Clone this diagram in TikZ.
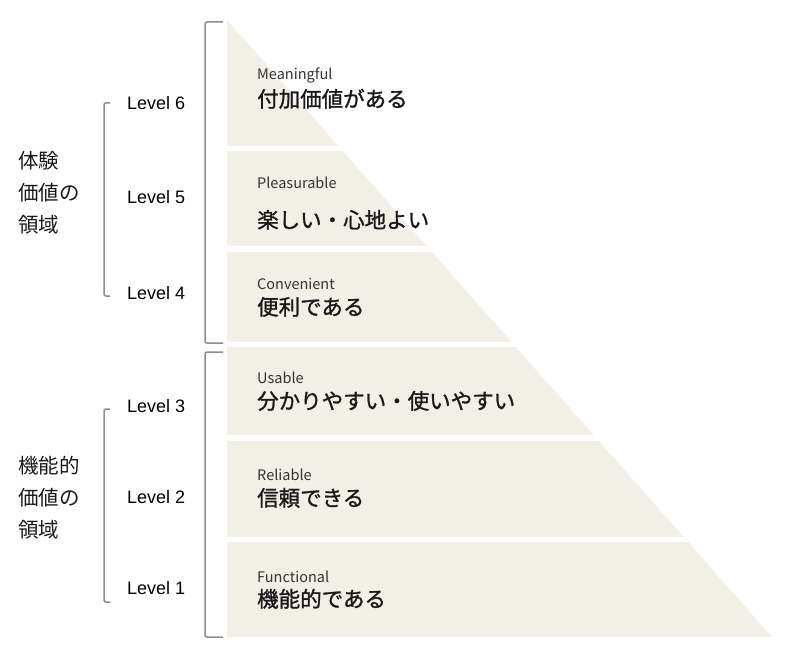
\documentclass[tikz,border=0pt]{standalone}
\usepackage{fontspec}
\setmainfont{Noto Sans CJK JP}
\newfontfamily\jpbold{Noto Sans CJK JP}[FakeBold=1.2]
\newfontfamily\lvfont{Liberation Sans}
\definecolor{bandfill}{HTML}{F1EFE6}
\definecolor{brgray}{HTML}{8C8C8C}
\definecolor{entext}{HTML}{333333}

\begin{document}
\begin{tikzpicture}[
        x=1pt, y=-1pt]

        \tikzstyle{band}=[
            fill = bandfill,
            draw = none
        ]
        \tikzstyle{br}=[
            draw = brgray,
            line width = 1.5pt,
            rounded corners = 2pt
        ]
        \tikzset{en/.style={anchor=base west, inner sep=0pt, text=entext, font=\fontsize{14.5}{14.5}\selectfont}}
        \tikzset{jp/.style={anchor=base west, inner sep=0pt, text=black!90, font=\jpbold\fontsize{21.5}{21.5}\selectfont}}
        \tikzset{lv/.style={anchor=west, inner sep=0pt, font=\lvfont\fontsize{18}{18}\selectfont}}
        \tikzset{grp/.style={anchor=west, inner sep=0pt, align=left, text=black!90, font=\fontsize{20.5}{32}\selectfont}}
        \useasboundingbox (0,0) rectangle (800,660);

        % pyramid, cut into bands
        \begin{scope}
            \clip (227,20) -- (772,637) -- (227,637) -- cycle;
            \foreach \t/\b in {20/146, 151/246, 252/342, 347/435, 441/537, 542/637}
                \fill[band] (227,\t) rectangle (780,\b);
        \end{scope}

        % brackets
        \draw[br] (223,22) -- (205,22) -- (205,343) -- (223,343);
        \draw[br] (223,352) -- (205,352) -- (205,637) -- (223,637);
        \draw[br] (110,103) -- (104,103) -- (104,296) -- (110,296);
        \draw[br] (110,409) -- (104,409) -- (104,602) -- (110,602);

        % band texts
        \node[en] (en6) at (257,80) {Meaningful};
        \node[jp] (jp6) at (257,107) {付加価値がある};
        \node[en] (en5) at (257,189) {Pleasurable};
        \node[jp] (jp5) at (257,228) {楽しい・心地よい};
        \node[en] (en4) at (257,290) {Convenient};
        \node[jp] (jp4) at (257,315) {便利である};
        \node[en] (en3) at (257,383) {Usable};
        \node[jp] (jp3) at (257,409) {分かりやすい・使いやすい};
        \node[en] (en2) at (257,480) {Reliable};
        \node[jp] (jp2) at (257,506) {信頼できる};
        \node[en] (en1) at (257,582) {Functional};
        \node[jp] (jp1) at (257,607) {機能的である};

        % levels
        \foreach \n/\y in {6/103, 5/197, 4/293, 3/406, 2/497, 1/588}
            \node[lv] (lv\n) at (127,\y) {Level \n};

        % areas
        \node[grp] (ux) at (18,193) {体験\\価値の\\領域};
        \node[grp] (fn) at (18,498) {機能的\\価値の\\領域};
    \end{tikzpicture}
\end{document}
